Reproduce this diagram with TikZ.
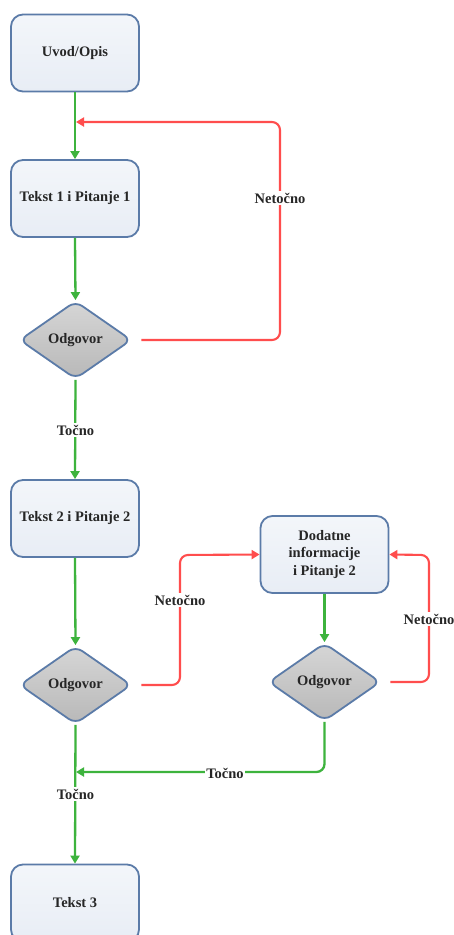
\documentclass[tikz,border=0pt]{standalone}
\usepackage{fontspec}
\setmainfont{Liberation Serif}
\usetikzlibrary{shapes.geometric,arrows.meta}
\definecolor{bordc}{HTML}{5B7BA8}
\definecolor{boxtop}{HTML}{F3F6FA}
\definecolor{boxbot}{HTML}{E8EDF5}
\definecolor{diatop}{HTML}{D6D6D6}
\definecolor{diabot}{HTML}{B8B8B8}
\definecolor{grn}{HTML}{3DB33D}
\definecolor{rd}{HTML}{FF4D4D}
\tikzset{
  txt/.style={font=\bfseries\fontsize{14.5}{17.5}\selectfont, text=black!85},
  stepbox/.style={txt, draw=bordc, line width=1.8pt, rounded corners=12pt,
    top color=boxtop, bottom color=boxbot, minimum width=128pt, minimum height=77pt,
    inner sep=0pt, align=center},
  decision/.style={txt, diamond, draw=bordc, line width=1.8pt, rounded corners=8pt,
    top color=diatop, bottom color=diabot, minimum width=112pt, minimum height=78pt,
    inner sep=0pt, aspect=1.45},
  gline/.style={draw=grn, line width=2.3pt, -{Triangle[length=8pt,width=9pt]}},
  rline/.style={draw=rd, line width=2.1pt, rounded corners=8pt, -{Triangle[length=8pt,width=9pt]}},
  lbl/.style={txt, fill=white, inner sep=1.5pt}
}
\begin{document}
\begin{tikzpicture}[x=1pt,y=-1pt]
\useasboundingbox[fill=white] (0,0) rectangle (453,935);
% nodes
\node[stepbox] (b1) at (75,53) {Uvod/Opis};
\node[stepbox] (b2) at (75,198.5) {Tekst 1 i Pitanje 1};
\node[decision] (d1) at (75.5,340) {Odgovor};
\node[stepbox] (b3) at (75,518.5) {Tekst 2 i Pitanje 2};
\node[decision] (d2) at (75.5,685) {Odgovor};
\node[stepbox] (b5) at (324.5,554.5) {Dodatne\\informacije\\i Pitanje 2};
\node[decision] (d3) at (324.5,682) {Odgovor};
\node[stepbox] (b4) at (75,903) {Tekst 3};
% junctions
\coordinate (j1) at (76,122);
\coordinate (r1) at (280,122);
\coordinate (r2) at (180,555);
\coordinate (r3) at (429,555);
\coordinate (j2) at (76,772);
\coordinate (g3) at (324.5,772);
% green flow
\draw[gline] (b1.south) -- (b2.north);
\draw[gline] (b2.south) -- (d1.north);
\draw[gline] (d1.south) -- (b3.north);
\draw[gline] (b3.south) -- (d2.north);
\draw[gline] (d2.south) -- (b4.north);
\draw[gline, rounded corners=8pt] (d3.south) -- (g3) -- (j2);
\draw[gline] (b5.south) -- (d3.north);
% red loops
\draw[rline, shorten <=9pt] (d1.east) -| (r1) -- (j1);
\draw[rline, shorten <=9pt] (d2.east) -| (r2) -- (b5.west);
\draw[rline, shorten <=9pt] (d3.east) -| (r3) -- (b5.east);
% labels
\node[lbl] (l1) at (280,198) {Netočno};
\node[lbl] (l2) at (75.5,430) {Točno};
\node[lbl] (l3) at (180,600) {Netočno};
\node[lbl] (l4) at (429,619) {Netočno};
\node[lbl] (l5) at (225,773) {Točno};
\node[lbl] (l6) at (75.5,794) {Točno};
\end{tikzpicture}
\end{document}
